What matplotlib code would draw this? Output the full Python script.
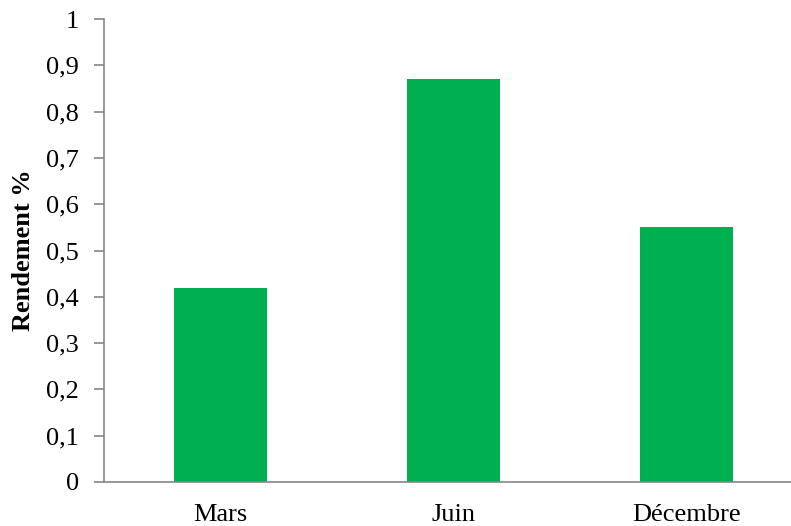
import matplotlib
matplotlib.use("Agg")
import matplotlib.pyplot as plt

categories = ["Mars", "Juin", "Décembre"]
values = [0.42, 0.87, 0.55]
yticks = [0, 0.1, 0.2, 0.3, 0.4, 0.5, 0.6, 0.7, 0.8, 0.9, 1.0]
ytick_labels = ["0", "0,1", "0,2", "0,3", "0,4", "0,5", "0,6", "0,7", "0,8", "0,9", "1"]

plt.rcParams['font.family'] = ['Liberation Serif', 'DejaVu Serif']

fig = plt.figure(figsize=(7.91, 5.26), dpi=100)
ax = fig.add_axes([104/791, 44/526, 699/791, 463/526])
x = list(range(len(categories)))
ax.bar(x, values, width=0.4, color="#00B050", zorder=2)
ax.set_xlim(-0.5, 2.5)
ax.set_ylim(0, 1)
ax.set_xticks(x)
ax.set_xticklabels(categories, fontsize=19)
ax.set_yticks(yticks)
ax.set_yticklabels(ytick_labels, fontsize=19)
ax.tick_params(axis='x', length=0, pad=16)
ax.tick_params(axis='y', length=7, width=1.2, color="#868686", pad=11)
for s in ["top", "right"]:
    ax.spines[s].set_visible(False)
for s in ["left", "bottom"]:
    ax.spines[s].set_color("#868686")
    ax.spines[s].set_linewidth(1.2)
ax.set_ylabel("Rendement %", fontsize=19, fontweight="bold", labelpad=8)
fig.savefig("out.png", dpi=100)
